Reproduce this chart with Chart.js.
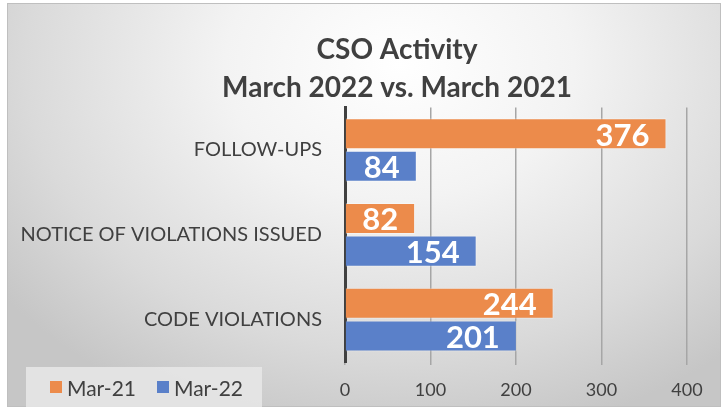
<!DOCTYPE html>
<html>
<head>
<meta charset="utf-8">
<script src="https://cdn.jsdelivr.net/npm/chart.js@4"></script>
<style>
  body { margin: 0; background: #fff; }
  #wrap { position: relative; width: 728px; height: 411px; }
  #bg {
    position: absolute; left: 7px; top: 3px; width: 712px; height: 402px;
    border: 1px solid #bfbfbf;
    background: radial-gradient(ellipse 70% 95% at 55% 15%, #ffffff 0%, #f3f3f3 35%, #dadada 75%, #c6c6c6 100%);
  }
  #chart { position: absolute; left: 0; top: 0; }
  #legend {
    position: absolute; left: 26px; top: 367px; width: 236px; height: 40px;
    background: rgba(232, 232, 232, 0.85);
    font: 21px Lato, sans-serif; color: #404040; white-space: nowrap;
    display: flex; align-items: center; padding-left: 24px; box-sizing: border-box;
  }
  #legend span.box { display: inline-block; width: 12px; height: 12px; margin-right: 5px; }
  #legend span.item { margin-right: 21px; display: flex; align-items: center; }
</style>
</head>
<body>
<div id="wrap">
  <div id="bg"></div>
  <canvas id="chart" width="728" height="411"></canvas>
  <div id="legend"></div>
</div>
<script>
const categories = ['FOLLOW-UPS', 'NOTICE OF VIOLATIONS ISSUED', 'CODE VIOLATIONS'];
const mar21 = [376, 82, 244];
const mar22 = [84, 154, 201];
const seriesNames = ['Mar-21', 'Mar-22'];
const xTicks = [0, 100, 200, 300, 400];

const orange = '#ec8b4b';
const blue = '#5a80c9';

const valueLabels = {
  id: 'valueLabels',
  afterDatasetsDraw(chart) {
    const ctx = chart.ctx;
    ctx.save();
    ctx.font = 'bold 31px Lato';
    ctx.fillStyle = '#fff';
    ctx.textAlign = 'right';
    ctx.textBaseline = 'middle';
    chart.data.datasets.forEach((ds, i) => {
      chart.getDatasetMeta(i).data.forEach((bar, j) => {
        ctx.fillText(ds.data[j], bar.x - 17, bar.y + 2);
      });
    });
    ctx.restore();
  }
};

// title in the reference is centred a bit right of the canvas middle
const shiftTitle = {
  id: 'shiftTitle',
  afterLayout(chart) {
    if (chart.titleBlock) chart.titleBlock.left = 107;
  }
};

new Chart(document.getElementById('chart').getContext('2d'), {
  type: 'bar',
  data: {
    labels: categories,
    datasets: [
      { label: seriesNames[0], data: mar21, backgroundColor: orange, borderColor: 'rgba(255,255,255,0.35)', borderWidth: 1 },
      { label: seriesNames[1], data: mar22, backgroundColor: blue, borderColor: 'rgba(255,255,255,0.35)', borderWidth: 1 }
    ]
  },
  options: {
    indexAxis: 'y',
    responsive: false,
    animation: false,
    barPercentage: 0.95,
    categoryPercentage: 0.77,
    layout: { padding: { top: 0, left: 0, right: 41, bottom: 0 } },
    plugins: {
      legend: { display: false },
      tooltip: { enabled: false },
      title: {
        display: true,
        text: ['CSO Activity', 'March 2022 vs. March 2021'],
        color: '#404040',
        font: { family: 'Lato', size: 28, weight: 'bold', lineHeight: 1.35 },
        padding: { top: 31, bottom: 1 }
      }
    },
    scales: {
      x: {
        min: 0, max: 400,
        afterBuildTicks: s => { s.ticks = xTicks.map(v => ({ value: v })); },
        afterFit: s => { s.height = 49; },
        grid: { color: '#a6a6a6', lineWidth: 1.5, drawTicks: true, tickLength: 3 },
        border: { display: false },
        ticks: { color: '#404040', font: { family: 'Lato', size: 18 }, padding: 14 }
      },
      y: {
        afterFit: s => { s.width = 345; },
        grid: { display: false },
        border: { color: '#404040', width: 3 },
        ticks: { color: '#404040', font: { family: 'Lato', size: 20 }, padding: 15 }
      }
    }
  },
  plugins: [valueLabels, shiftTitle]
});

const legend = document.getElementById('legend');
[[seriesNames[0], orange], [seriesNames[1], blue]].forEach(([name, col]) => {
  const item = document.createElement('span');
  item.className = 'item';
  item.innerHTML = '<span class="box" style="background:' + col + '"></span>' + name;
  legend.appendChild(item);
});
</script>
</body>
</html>
